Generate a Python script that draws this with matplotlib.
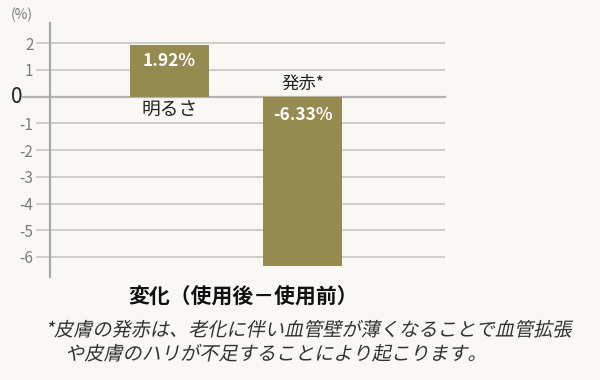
import matplotlib.pyplot as plt
from matplotlib.textpath import TextPath
from matplotlib.font_manager import FontProperties
from matplotlib.patches import PathPatch
from matplotlib.transforms import Affine2D

plt.rcParams['font.family'] = ['Noto Sans CJK JP', 'DejaVu Sans']

categories = ['明るさ', '発赤*']
values = [1.92, -6.33]
value_labels = ['1.92%', '-6.33%']
yticks = [2, 1, -1, -2, -3, -4, -5, -6]
xlabel = '変化（使用後－使用前）'
note_lines = ['*皮膚の発赤は、老化に伴い血管壁が薄くなることで血管拡張',
              'や皮膚のハリが不足することにより起こります。']

bg = '#faf8f4'
bar_color = '#958a50'
grid_color = '#cfcdc8'

fig = plt.figure(figsize=(6, 3.8), dpi=100, facecolor=bg)
ax = fig.add_axes([0.0833, 0.271, 0.658, 0.668], facecolor=bg)

x = list(range(len(values)))
ax.bar(x, values, width=0.6, color=bar_color, zorder=3)

ax.set_xlim(-0.9, 2.07)
ax.set_ylim(-6.75, 2.75)

for t in yticks:
    ax.axhline(t, color=grid_color, lw=1.4, zorder=1)
# zero line reaches further left
ax.plot([-1.1, 2.07], [0, 0], color='#b5b3ae', lw=1.6, clip_on=False, zorder=2)

ax.set_yticks(yticks)
ax.set_yticklabels([str(t) for t in yticks], color='#7a7a7a', fontsize=11)
ax.tick_params(axis='y', length=10, color=grid_color, width=1.4, pad=2)
ax.set_xticks([])
for s in ['top', 'right', 'bottom']:
    ax.spines[s].set_visible(False)
ax.spines['left'].set_color('#a8a8a8')
ax.spines['left'].set_linewidth(1.6)

fig.text(11 / 600, 1 - 97 / 380, '0', fontsize=15, va='center', ha='left', color='#222222')
fig.text(11 / 600, 1 - 15 / 380, '(%)', fontsize=10, va='center', ha='left', color='#7a7a7a')

# value labels inside bars and category names beside zero
ax.text(x[0], values[0] - 0.6, value_labels[0], color='white', fontsize=12.5,
        fontweight='bold', ha='center', va='center', zorder=4)
ax.text(x[1], -0.7, value_labels[1], color='white', fontsize=12.5,
        fontweight='bold', ha='center', va='center', zorder=4)
ax.text(x[0], -0.5, categories[0], fontsize=13.5, ha='center', va='center', color='#222222')
ax.text(x[1], 0.5, categories[1], fontsize=12.5, ha='center', va='center', color='#222222')

fig.text(128 / 600, 1 - 297 / 380, xlabel, fontsize=15, fontweight='bold',
         ha='left', va='center', color='#111111')

# slanted footnote (CJK font has no italic face, so shear the glyph outlines)
prop = FontProperties(family='Noto Sans CJK JP')
for s, (px, py) in zip(note_lines, [(45, 336), (65, 360)]):
    path = TextPath((0, 0), s, size=13.8, prop=prop)
    tr = (Affine2D().skew_deg(12, 0).scale(1 / 72).translate(px / 100, (380 - py) / 100)
          + fig.dpi_scale_trans)
    fig.add_artist(PathPatch(path, transform=tr, facecolor='#333333', edgecolor='none'))

fig.savefig('out.png', dpi=100, facecolor=bg)
